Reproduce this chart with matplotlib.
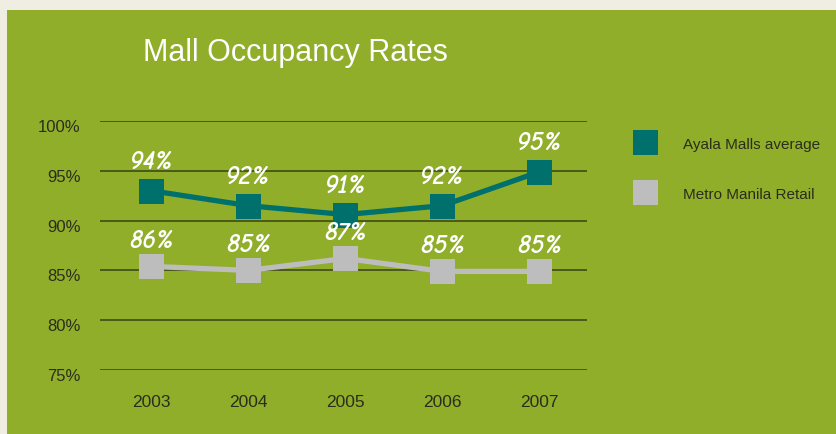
import matplotlib
matplotlib.use("Agg")
import matplotlib.pyplot as plt
import matplotlib.transforms as mtransforms
from matplotlib.patches import Rectangle
from matplotlib.lines import Line2D

years = [2003, 2004, 2005, 2006, 2007]
ayala = [93.0, 91.5, 90.6, 91.5, 94.9]
metro = [85.4, 85.0, 86.2, 84.9, 84.9]
ayala_labels = ["94%", "92%", "91%", "92%", "95%"]
metro_labels = ["86%", "85%", "87%", "85%", "85%"]
yticks = [75, 80, 85, 90, 95, 100]
ytick_labels = ["75%", "80%", "85%", "90%", "95%", "100%"]
series_names = ["Ayala Malls average", "Metro Manila Retail"]

W, H = 836, 435
BG = "#f0ede3"
GREEN = "#90ae2a"
TEAL = "#00706c"
GRAY = "#bdbdbd"
TXT = "#2b2d1c"
GRID = "#4b5a18"
SANS = ["Liberation Sans", "DejaVu Sans"]

fig = plt.figure(figsize=(W / 100, H / 100), dpi=100, facecolor=BG)
fig.patches.append(Rectangle((7 / W, 0), 1, 1 - 11 / H, transform=fig.transFigure,
                             facecolor=GREEN, edgecolor="none", zorder=-10))

ax = fig.add_axes([100 / W, 1 - 371 / H, (587 - 100) / W, (371 - 122) / H])
ax.set_facecolor("none")
ax.set_xlim(2002.47, 2007.49)
ax.set_ylim(75, 100)
for s in ax.spines.values():
    s.set_visible(False)
ax.set_yticks(yticks)
ax.set_yticklabels(ytick_labels)
ax.set_xticks(years)
ax.set_xticklabels([str(y) for y in years])
ax.tick_params(length=0, labelcolor=TXT)
ax.tick_params(axis="y", pad=14, labelsize=12)
ax.tick_params(axis="x", pad=17, labelsize=12.5)
for lab in ax.get_yticklabels() + ax.get_xticklabels():
    lab.set_family(SANS)
for lab in ax.get_yticklabels():
    lab.set_transform(lab.get_transform() + mtransforms.ScaledTranslation(0, -4 / 100, fig.dpi_scale_trans))
    lab.set_verticalalignment("center_baseline")
ax.grid(axis="y", color=GRID, linewidth=1.4, zorder=0)
ax.set_axisbelow(True)

ax.plot(years, ayala, color=TEAL, linewidth=3.8, marker="s", markersize=18,
        markeredgewidth=0, solid_joinstyle="round", zorder=3, clip_on=False)
ax.plot(years, metro, color=GRAY, linewidth=3.8, marker="s", markersize=18,
        markeredgewidth=0, solid_joinstyle="round", zorder=3, clip_on=False)

lab_font = ["Comic Neue", "Open Sans", "DejaVu Sans"]
for x, y, t in zip(years, ayala, ayala_labels):
    ax.annotate(t, (x, y), xytext=(0, 21), textcoords="offset points",
                ha="center", va="center", color="white", fontsize=18.5,
                family=lab_font, fontstyle="italic", fontweight="bold", zorder=5)
for x, y, t in zip(years, metro, metro_labels):
    ax.annotate(t, (x, y), xytext=(0, 19), textcoords="offset points",
                ha="center", va="center", color="white", fontsize=18.5,
                family=lab_font, fontstyle="italic", fontweight="bold", zorder=5)

fig.text(143 / W, 1 - 61 / H, "Mall Occupancy Rates", color="white", fontsize=22,
         family=SANS, va="baseline", ha="left")

handles = [Line2D([], [], color=TEAL, marker="s", markersize=18, linestyle="none", markeredgewidth=0),
           Line2D([], [], color=GRAY, marker="s", markersize=18, linestyle="none", markeredgewidth=0)]
leg = fig.legend(handles, series_names, loc="upper left",
                 bbox_to_anchor=(622 / W, 1 - 124 / H), frameon=False,
                 labelspacing=2.35, handletextpad=1.9, handlelength=1.2,
                 prop={"family": "Liberation Sans", "size": 11})
for t in leg.get_texts():
    t.set_color(TXT)

fig.savefig("out.png", dpi=100, facecolor=BG)
